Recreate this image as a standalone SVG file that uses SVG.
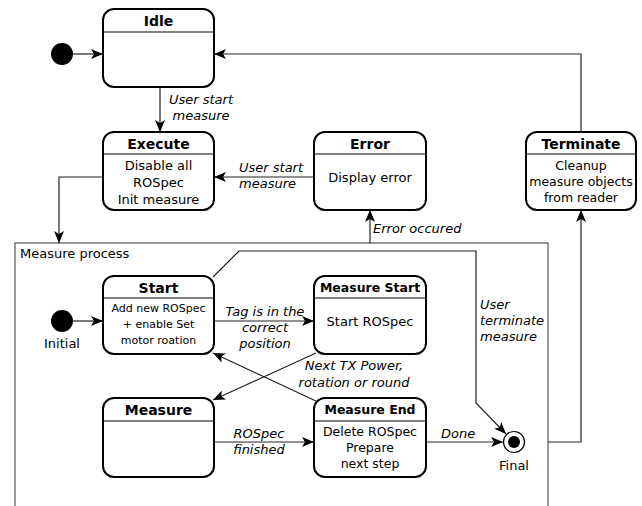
<svg xmlns="http://www.w3.org/2000/svg" width="642" height="506" viewBox="0 0 642 506">
<defs>
<marker id="arr" viewBox="0 0 12 10" refX="12" refY="5" markerWidth="12" markerHeight="10" markerUnits="userSpaceOnUse" orient="auto">
<path d="M0,0 L12,5 L0,10 L3,5 z" fill="#000"/>
</marker>
<style>
text{font-family:"DejaVu Sans",Verdana,sans-serif;fill:#000}
.node{fill:#fff;stroke:#000;stroke-width:2}
.hdr{stroke:#000;stroke-width:1}
.t{font-weight:bold;font-size:14px;text-anchor:middle}
.ts{font-weight:bold;font-size:12.5px;text-anchor:middle}
.b{font-size:13px;text-anchor:middle}
.l{font-size:13px;font-style:italic}
.c{fill:none;stroke:#222;stroke-width:1.2}
.ca{fill:none;stroke:#222;stroke-width:1.2;marker-end:url(#arr)}
</style>
</defs>
<rect width="642" height="506" fill="#fff"/>
<g id="measure-process">
<rect x="15" y="243" width="533" height="280" fill="none" stroke="#555" stroke-width="1.2"/>
<text x="20" y="258" style="font-size:13px">Measure process</text>
</g>
<g id="connectors">
<path class="ca" d="M73,54 L103,54"/>
<path class="ca" d="M160,87 L160,132"/>
<path class="ca" d="M314,177 L214,177"/>
<path class="ca" d="M581,132 L581,54 L214,54"/>
<path class="ca" d="M103,177 L59,177 L59,243"/>
<path class="ca" d="M370,243 L370,210"/>
<path class="ca" d="M548,442 L581,442 L581,210"/>
<path class="ca" d="M73,321 L103,321"/>
<path class="ca" d="M214,321 L314,321"/>
<path class="ca" d="M316,353 L213,400"/>
<path class="ca" d="M316,401 L213,353"/>
<path class="ca" d="M214,442 L314,442"/>
<path class="ca" d="M426,442 L503,442"/>
<path class="ca" d="M213,277 L239,251 L476,251 L476,403 L506,434"/>
<text class="l" x="201" y="104" text-anchor="middle">User start</text>
<text class="l" x="201" y="120" text-anchor="middle">measure</text>
<text class="l" x="239" y="172">User start</text>
<text class="l" x="239" y="188">measure</text>
<text class="l" x="373" y="233">Error occured</text>
<text class="l" x="265" y="316" text-anchor="middle">Tag is in the</text>
<text class="l" x="265" y="332" text-anchor="middle">correct</text>
<text class="l" x="265" y="348" text-anchor="middle">position</text>
<text class="l" x="354" y="370" text-anchor="middle">Next TX Power,</text>
<text class="l" x="354" y="387" text-anchor="middle">rotation or round</text>
<text class="l" x="259" y="438" text-anchor="middle">ROSpec</text>
<text class="l" x="259" y="454" text-anchor="middle">finished</text>
<text class="l" x="441" y="438">Done</text>
<text class="l" x="480" y="309">User</text>
<text class="l" x="480" y="325">terminate</text>
<text class="l" x="480" y="341">measure</text>
</g>
<g id="init-top">
<circle cx="62" cy="54" r="11" fill="#000"/>
</g>
<g id="idle">
<rect class="node" x="103" y="9" width="111" height="78" rx="11"/>
<line class="hdr" x1="103" y1="32" x2="214" y2="32"/>
<text class="t" x="158.5" y="26">Idle</text>
</g>
<g id="execute">
<rect class="node" x="103" y="132" width="111" height="78" rx="11"/>
<line class="hdr" x1="103" y1="154" x2="214" y2="154"/>
<text class="t" x="158.5" y="149">Execute</text>
<text class="b" x="158.5" y="170">Disable all</text>
<text class="b" x="158.5" y="187">ROSpec</text>
<text class="b" x="158.5" y="204">Init measure</text>
</g>
<g id="error">
<rect class="node" x="314" y="132" width="112" height="78" rx="11"/>
<line class="hdr" x1="314" y1="154" x2="426" y2="154"/>
<text class="t" x="370" y="149">Error</text>
<text class="b" x="370" y="182">Display error</text>
</g>
<g id="terminate">
<rect class="node" x="526" y="132" width="110" height="78" rx="11"/>
<line class="hdr" x1="526" y1="154" x2="636" y2="154"/>
<text class="t" x="581" y="149">Terminate</text>
<text class="b" x="581" y="170" style="font-size:12.5px">Cleanup</text>
<text class="b" x="581" y="186" style="font-size:12.5px">measure objects</text>
<text class="b" x="581" y="202" style="font-size:12.5px">from reader</text>
</g>
<g id="initial">
<circle cx="62" cy="321" r="11" fill="#000"/>
<text class="b" x="62" y="348">Initial</text>
</g>
<g id="start">
<rect class="node" x="103" y="276" width="111" height="78" rx="11"/>
<line class="hdr" x1="103" y1="298" x2="214" y2="298"/>
<text class="t" x="158.5" y="293">Start</text>
<text class="b" x="158.5" y="312" style="font-size:11px">Add new ROSpec</text>
<text class="b" x="158.5" y="328" style="font-size:11px">+ enable Set</text>
<text class="b" x="158.5" y="344" style="font-size:11px">motor roation</text>
</g>
<g id="measure-start">
<rect class="node" x="314" y="276" width="112" height="78" rx="11"/>
<line class="hdr" x1="314" y1="298" x2="426" y2="298"/>
<text class="ts" x="370" y="292">Measure Start</text>
<text class="b" x="370" y="326">Start ROSpec</text>
</g>
<g id="measure">
<rect class="node" x="103" y="398" width="111" height="79" rx="11"/>
<line class="hdr" x1="103" y1="421" x2="214" y2="421"/>
<text class="t" x="158.5" y="415">Measure</text>
</g>
<g id="measure-end">
<rect class="node" x="314" y="398" width="112" height="79" rx="11"/>
<line class="hdr" x1="314" y1="421" x2="426" y2="421"/>
<text class="ts" x="370" y="414">Measure End</text>
<text class="b" x="370" y="436" style="font-size:12.5px">Delete ROSpec</text>
<text class="b" x="370" y="452" style="font-size:12.5px">Prepare</text>
<text class="b" x="370" y="468" style="font-size:12.5px">next step</text>
</g>
<g id="final">
<circle cx="514" cy="442" r="10.5" fill="#fff" stroke="#000" stroke-width="1.2"/>
<circle cx="514" cy="442" r="6" fill="#000"/>
<text class="b" x="514" y="470">Final</text>
</g>
</svg>
